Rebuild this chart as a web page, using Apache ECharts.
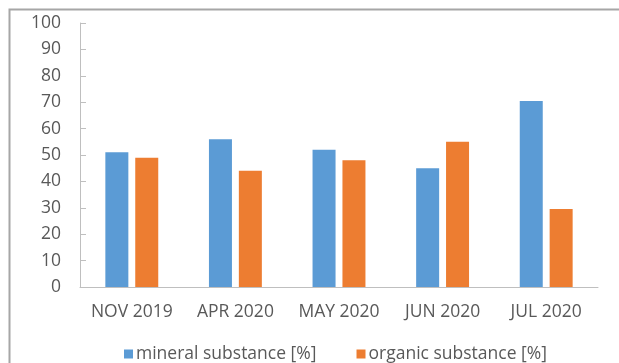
<!DOCTYPE html>
<html>
<head>
<meta charset="utf-8">
<script src="https://cdn.jsdelivr.net/npm/echarts@6/dist/echarts.min.js"></script>
<style>html,body{margin:0;padding:0;background:#fff;}#c{width:619px;height:363px;}</style>
</head>
<body>
<div id="c"></div>
<script>
var categories = ['NOV 2019', 'APR 2020', 'MAY 2020', 'JUN 2020', 'JUL 2020'];
var mineral = [51, 56, 52, 45, 70.5];
var organic = [49, 44, 48, 55, 29.5];
var seriesNames = ['mineral substance [%]', 'organic substance [%]'];

var chart = echarts.init(document.getElementById('c'), null, {renderer: 'canvas'});
var font = 'Open Sans';
chart.setOption({
  animation: false,
  backgroundColor: '#fff',
  graphic: [{
    type: 'rect', left: 7, top: 7, shape: {width: 640, height: 380},
    style: {fill: 'none', stroke: '#a6a6a6', lineWidth: 2}, silent: true
  }],
  grid: {left: 80, right: 21, top: 23, bottom: 76, containLabel: false},
  legend: {
    left: 119, top: 340, itemWidth: 9, itemHeight: 9, itemGap: 40, icon: 'rect',
    textStyle: {fontFamily: font, fontSize: 17.5, color: '#595959', padding: [0, 0, 0, -2]},
    data: seriesNames
  },
  xAxis: {
    type: 'category', data: categories,
    axisLine: {lineStyle: {color: '#bfbfbf', width: 1}},
    axisTick: {show: false},
    axisLabel: {fontFamily: font, fontSize: 17.5, color: '#595959', margin: 16, interval: 0, hideOverlap: false}
  },
  yAxis: {
    type: 'value', min: 0, max: 100, interval: 10,
    axisLine: {show: true, lineStyle: {color: '#bfbfbf', width: 1}},
    axisTick: {show: true, inside: true, length: 6, lineStyle: {color: '#bfbfbf'}},
    splitLine: {show: false},
    axisLabel: {fontFamily: font, fontSize: 17.5, color: '#595959', margin: 19}
  },
  series: [
    {name: seriesNames[0], type: 'bar', data: mineral, barWidth: 23, barGap: '30%', itemStyle: {color: '#5b9bd5'}},
    {name: seriesNames[1], type: 'bar', data: organic, barWidth: 23, itemStyle: {color: '#ed7d31'}}
  ]
});
</script>
</body>
</html>
